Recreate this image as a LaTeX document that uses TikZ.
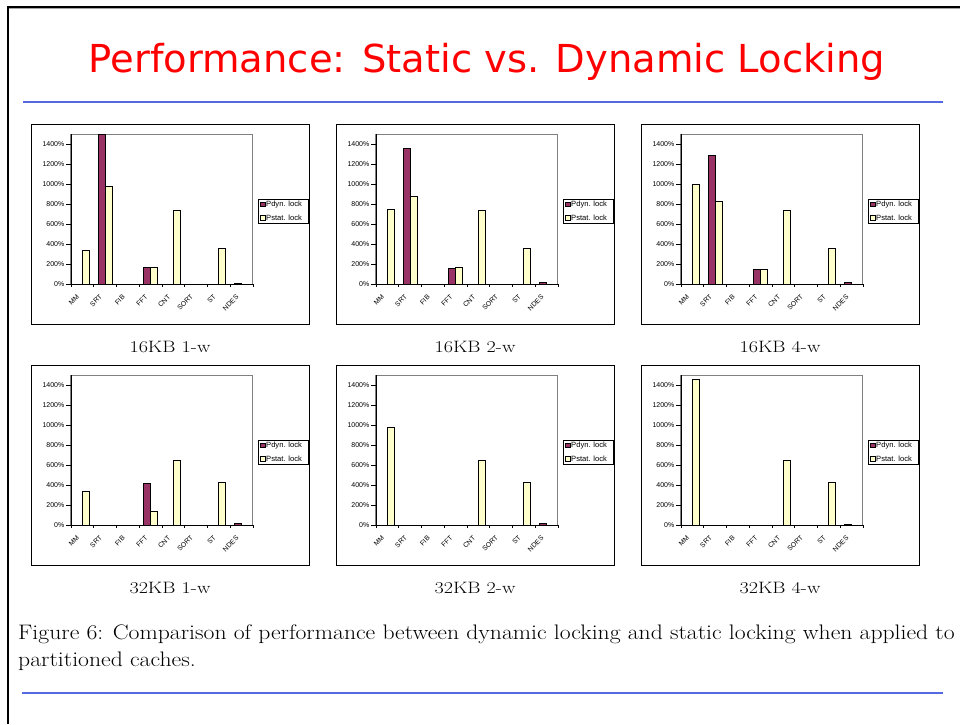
\documentclass[tikz,border=0pt]{standalone}
\usepackage{fontspec}
\newfontfamily\titlefont{DejaVu Sans}
\newfontfamily\chartfont{Liberation Sans}
\usetikzlibrary{positioning,calc}
\definecolor{dynlock}{RGB}{153,51,102}
\definecolor{statlock}{RGB}{255,255,204}
\definecolor{slideblue}{RGB}{85,105,225}

% one chart: #1 name, #2 left, #3 top, #4 caption, #5 bars (label/dyn/stat)
\newcommand{\perfchart}[5]{%
	\begin{scope}[shift={(#2,#3)}]
		\draw[panelbox] (0,0) rectangle (278,200);
		\draw[plotbox] (39.7,10) rectangle (221.7,160);
		\foreach \lab/\dyn/\sta [count=\i] in {#5} {
			\pgfmathsetmacro\cx{39.7+(\i-0.5)*22.75}
			\ifnum\dyn>0 \draw[dynbar] (\cx-7,160) rectangle (\cx,160-\dyn/10); \fi
			\ifnum\sta>0 \draw[statbar] (\cx,160) rectangle (\cx+7,160-\sta/10); \fi
			\draw (39.7+\i*22.75,160) -- ++(0,3);
			\node[xlab] (#1-x\i) at (\cx-3.5,171.5) {\lab};
		}
		\foreach \v in {0,200,...,1400}
			\draw (39.7,160-\v/10) -- (35,160-\v/10) node[ylab] (#1-y\v) {\v\%};
		\draw (39.7,10) -- (39.7,160) -- (221.7,160) -- ++(0,3);
		\draw (39.7,160) -- ++(0,3);
		% legend
		\draw[legbox] (227,75) rectangle (277,99);
		\draw[dynbar] (229.5,78.3) rectangle (234,82.7);
		\node[legtext] (#1-l1) at (234.5,80.5) {Pdyn. lock};
		\draw[statbar] (229.5,91.7) rectangle (234,96);
		\node[legtext] (#1-l2) at (234.5,93.8) {Pstat. lock};
		\node[capfont] (#1-cap) at (139,228) {#4};
	\end{scope}
}

\begin{document}
\begin{tikzpicture}[x=1pt,y=-1pt,
		panelbox/.style={draw=black,line width=1pt},
		plotbox/.style={draw=black!50,line width=0.6pt},
		dynbar/.style={fill=dynlock,draw=black,line width=0.5pt},
		statbar/.style={fill=statlock,draw=black,line width=0.5pt},
		legbox/.style={draw=black,line width=0.6pt,fill=white},
		xlab/.style={anchor=east,rotate=45,inner sep=0.5pt,font=\chartfont\fontsize{6.8}{8}\selectfont},
		ylab/.style={anchor=east,inner sep=1.5pt,font=\chartfont\fontsize{7}{8}\selectfont},
		legtext/.style={anchor=west,inner sep=0.5pt,font=\chartfont\fontsize{7.6}{9}\selectfont},
		capfont/.style={anchor=base,inner sep=0pt,font=\fontsize{16.5}{18}\selectfont,xscale=1.22},
		figtext/.style={anchor=base west,inner sep=0pt,font=\fontsize{21}{27}\selectfont,xscale=1.128},
		rule/.style={draw=slideblue,line width=2pt}
	]
	\useasboundingbox (0,0) rectangle (960,724);
	\fill[white] (0,0) rectangle (960,724);
	\draw[line width=2pt] (7.7,724) -- (7.7,7) -- (960,7);
	\draw[black!35,line width=1pt] (8.7,8.8) -- (960,8.8);

	\node[anchor=base,text=red,font=\titlefont\fontsize{38.5}{42}\selectfont] (title) at (487,72) {Performance: Static vs. Dynamic Locking};
	\draw[rule] (23,102) -- (943,102);

	\perfchart{kba}{31}{124}{16KB 1-w}{MM/0/340, SRT/1500/980, FIB/0/0, FFT/165/165, CNT/0/740, SORT/0/0, ST/0/360, NDES/10/0}
	\perfchart{kbb}{336}{124}{16KB 2-w}{MM/0/750, SRT/1360/880, FIB/0/0, FFT/160/170, CNT/0/740, SORT/0/0, ST/0/360, NDES/20/0}
	\perfchart{kbc}{641}{124}{16KB 4-w}{MM/0/1000, SRT/1290/830, FIB/0/0, FFT/150/150, CNT/0/740, SORT/0/0, ST/0/360, NDES/20/0}
	\perfchart{kbd}{31}{365}{32KB 1-w}{MM/0/340, SRT/0/0, FIB/0/0, FFT/415/140, CNT/0/645, SORT/0/0, ST/0/425, NDES/20/0}
	\perfchart{kbe}{336}{365}{32KB 2-w}{MM/0/980, SRT/0/0, FIB/0/0, FFT/0/0, CNT/0/645, SORT/0/0, ST/0/425, NDES/20/0}
	\perfchart{kbf}{641}{365}{32KB 4-w}{MM/0/1460, SRT/0/0, FIB/0/0, FFT/0/0, CNT/0/645, SORT/0/0, ST/0/425, NDES/10/0}

	\node[figtext] (fig) at (18,639) {Figure 6: Comparison of performance between dynamic locking and static locking when applied to};
	\node[figtext] (fig2) at (18,666) {partitioned caches.};
	\draw[rule] (22,693) -- (943,693);
\end{tikzpicture}
\end{document}
